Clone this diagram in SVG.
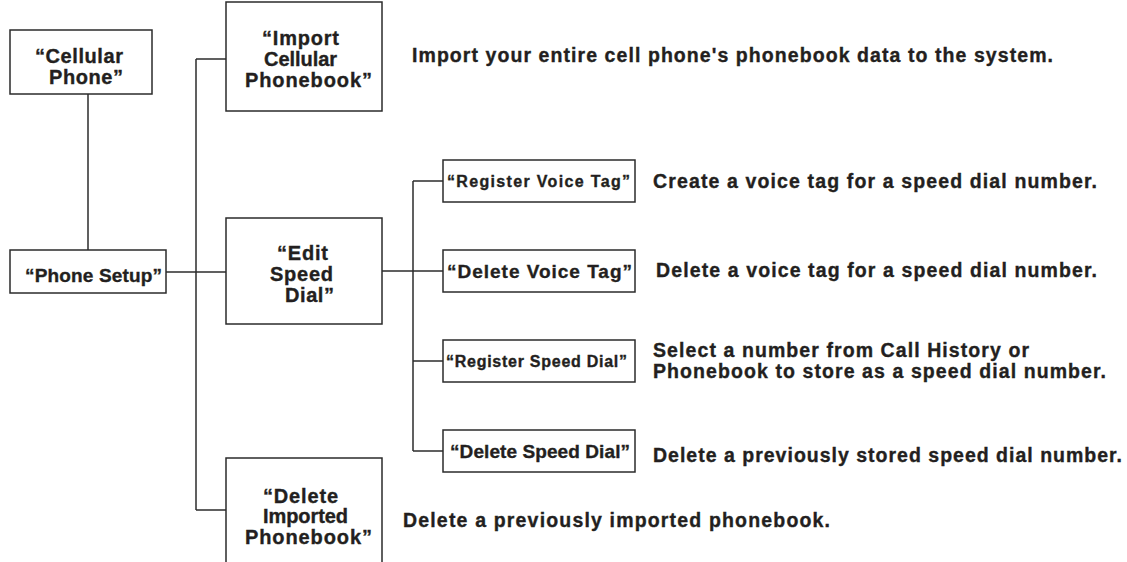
<svg xmlns="http://www.w3.org/2000/svg" width="1127" height="562" viewBox="0 0 1127 562">
<style>
.box{fill:#fff;stroke:#2b2b2b;stroke-width:1.5}
.ln{fill:none;stroke:#2b2b2b;stroke-width:1.5}
text{font-family:"Liberation Sans",Arial,sans-serif;font-weight:bold;fill:#231f20;stroke:#231f20;stroke-width:0.35}
.n{font-size:20px}
.s{font-size:16px}
.m{font-size:19px}
.d{font-size:19.5px}
</style>
<rect width="1127" height="562" fill="#fff"/>
<g id="connectors">
<path class="ln" d="M88,94 V250"/>
<path class="ln" d="M166,272 H226"/>
<path class="ln" d="M196,59 V510"/>
<path class="ln" d="M196,59 H226"/>
<path class="ln" d="M196,510 H226"/>
<path class="ln" d="M382,271 H443"/>
<path class="ln" d="M413,181 V451"/>
<path class="ln" d="M413,181 H443"/>
<path class="ln" d="M413,361 H443"/>
<path class="ln" d="M413,451 H443"/>
</g>
<g id="cellular-phone">
<rect class="box" x="10" y="30" width="142" height="64"/>
<text class="n" x="35" y="63" textLength="88" lengthAdjust="spacing">“Cellular</text>
<text class="n" x="49" y="84" textLength="74" lengthAdjust="spacing">Phone”</text>
</g>
<g id="phone-setup">
<rect class="box" x="10" y="250" width="156" height="43"/>
<text class="m" x="25" y="282" textLength="137" lengthAdjust="spacing">“Phone Setup”</text>
</g>
<g id="import-cellular-phonebook">
<rect class="box" x="226" y="2" width="156" height="109"/>
<text class="n" x="262" y="45" textLength="77" lengthAdjust="spacing">“Import</text>
<text class="n" x="264" y="66" textLength="73" lengthAdjust="spacing">Cellular</text>
<text class="n" x="245" y="87" textLength="127" lengthAdjust="spacing">Phonebook”</text>
</g>
<g id="edit-speed-dial">
<rect class="box" x="226" y="218" width="156" height="106"/>
<text class="n" x="277" y="260" textLength="51" lengthAdjust="spacing">“Edit</text>
<text class="n" x="270" y="281" textLength="63" lengthAdjust="spacing">Speed</text>
<text class="n" x="285" y="302" textLength="49" lengthAdjust="spacing">Dial”</text>
</g>
<g id="delete-imported-phonebook">
<path class="box" d="M226,563 V458 H382 V563"/>
<text class="n" x="263" y="503" textLength="75" lengthAdjust="spacing">“Delete</text>
<text class="n" x="263" y="523" textLength="85" lengthAdjust="spacing">Imported</text>
<text class="n" x="245" y="544" textLength="127" lengthAdjust="spacing">Phonebook”</text>
</g>
<g id="register-voice-tag">
<rect class="box" x="443" y="160" width="192" height="42"/>
<text class="s" x="447" y="187" textLength="183" lengthAdjust="spacing">“Register Voice Tag”</text>
</g>
<g id="delete-voice-tag">
<rect class="box" x="443" y="250" width="192" height="42"/>
<text class="m" x="447" y="278" textLength="185" lengthAdjust="spacing">“Delete Voice Tag”</text>
</g>
<g id="register-speed-dial">
<rect class="box" x="443" y="340" width="192" height="42"/>
<text class="s" x="446" y="367" textLength="181" lengthAdjust="spacing">“Register Speed Dial”</text>
</g>
<g id="delete-speed-dial">
<rect class="box" x="443" y="430" width="192" height="42"/>
<text class="m" x="450" y="458" textLength="180" lengthAdjust="spacing">“Delete Speed Dial”</text>
</g>
<g id="descriptions">
<text class="d" x="412" y="62" textLength="641" lengthAdjust="spacing">Import your entire cell phone's phonebook data to the system.</text>
<text class="d" x="653" y="188" textLength="444" lengthAdjust="spacing">Create a voice tag for a speed dial number.</text>
<text class="d" x="656" y="277" textLength="441" lengthAdjust="spacing">Delete a voice tag for a speed dial number.</text>
<text class="d" x="653" y="357" textLength="376" lengthAdjust="spacing">Select a number from Call History or</text>
<text class="d" x="653" y="378" textLength="453" lengthAdjust="spacing">Phonebook to store as a speed dial number.</text>
<text class="d" x="653" y="462" textLength="469" lengthAdjust="spacing">Delete a previously stored speed dial number.</text>
<text class="d" x="403" y="527" textLength="427" lengthAdjust="spacing">Delete a previously imported phonebook.</text>
</g>
</svg>
